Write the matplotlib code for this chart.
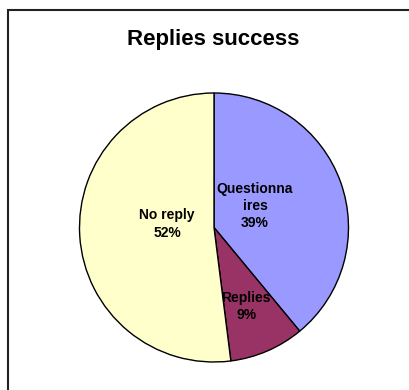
import matplotlib
matplotlib.use("Agg")
import matplotlib.pyplot as plt
from matplotlib.patches import Rectangle
import numpy as np

plt.rcParams['font.family'] = ['Liberation Sans', 'DejaVu Sans']

categories = ["Questionna\nires", "Replies", "No reply"]
values = [39, 9, 52]
colors = ["#9999FF", "#993366", "#FFFFCC"]
label_radii = [0.344, 0.634, 0.35]
label_shift_deg = [7.9, -1.3, -8.0]

W, H = 410, 390
fig = plt.figure(figsize=(W / 100, H / 100), dpi=100)
fig.patch.set_facecolor("white")

cx, cy, r = 214, 227.5, 134.5
ax = fig.add_axes([(cx - r) / W, (H - cy - r) / H, 2 * r / W, 2 * r / H])
wedges, _ = ax.pie(values, colors=colors, startangle=90, counterclock=False,
                   wedgeprops=dict(edgecolor="black", linewidth=1.0))
ax.set_xlim(-1, 1)
ax.set_ylim(-1, 1)
ax.set_aspect("equal")
ax.axis("off")

total = sum(values)
for w, cat, v, rr, sh in zip(wedges, categories, values, label_radii, label_shift_deg):
    th = np.deg2rad((w.theta1 + w.theta2) / 2 + sh)
    ax.text(rr * np.cos(th), rr * np.sin(th), f"{cat}\n{round(100 * v / total)}%",
            ha="center", va="center", fontsize=10, fontweight="bold",
            linespacing=1.3, color="black")

fig.text(213.5 / W, 1 - 45.5 / H, "Replies success", ha="center", va="baseline",
         fontsize=16, fontweight="bold")

fig.patches.append(Rectangle((8 / W, -0.2), 1.5, 1.2 - 10 / H,
                             transform=fig.transFigure, fill=False,
                             edgecolor="#222222", linewidth=1.5, clip_on=False))

fig.savefig("out.png", dpi=100)
